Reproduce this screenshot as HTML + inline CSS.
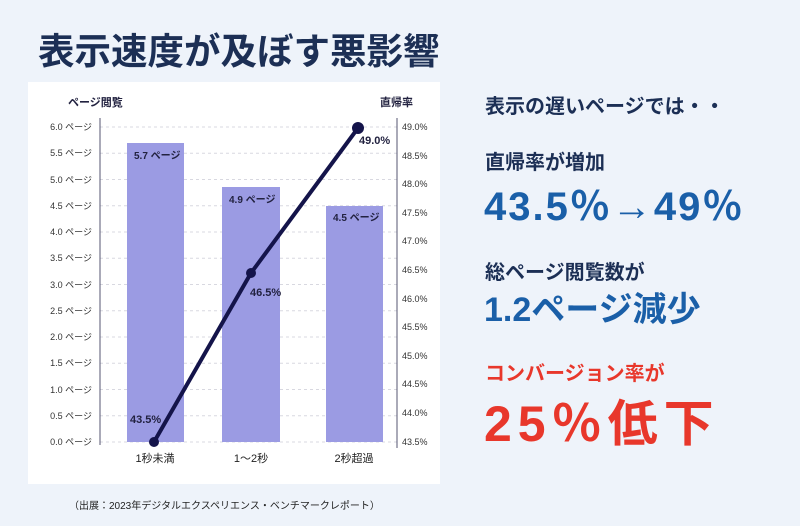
<!DOCTYPE html>
<html><head><meta charset="utf-8"><style>
body{margin:0;width:800px;height:526px;background:#eef3fa;position:relative;overflow:hidden;font-family:"Liberation Sans","Noto Sans CJK JP",sans-serif}
.t{position:absolute;white-space:nowrap;font-weight:bold}
</style></head><body>
<div class="t" style="left:38px;top:22px;font-size:36.5px;color:#1c2f55">表示速度が及ぼす悪影響</div>
<div style="position:absolute;left:28px;top:82px;width:412px;height:402px;background:#fff"></div>
<svg style="position:absolute;left:0;top:0" width="800" height="526" font-family="Liberation Sans,Noto Sans CJK JP,sans-serif">
<g stroke="#d8d8e0" stroke-dasharray="3,3" stroke-width="1">
<line x1="100" x2="397" y1="127" y2="127"/><line x1="100" x2="397" y1="153.25" y2="153.25"/><line x1="100" x2="397" y1="179.5" y2="179.5"/><line x1="100" x2="397" y1="205.75" y2="205.75"/><line x1="100" x2="397" y1="232" y2="232"/><line x1="100" x2="397" y1="258.25" y2="258.25"/><line x1="100" x2="397" y1="284.5" y2="284.5"/><line x1="100" x2="397" y1="310.75" y2="310.75"/><line x1="100" x2="397" y1="337" y2="337"/><line x1="100" x2="397" y1="363.25" y2="363.25"/><line x1="100" x2="397" y1="389.5" y2="389.5"/><line x1="100" x2="397" y1="415.75" y2="415.75"/><line x1="100" x2="397" y1="442" y2="442"/>
</g>
<line x1="100" x2="100" y1="118" y2="445" stroke="#555570"/>
<line x1="397" x2="397" y1="118" y2="448" stroke="#555570"/>
<g fill="#9b9be3">
<rect x="127" y="143" width="57" height="299"/><rect x="222" y="187" width="58" height="255"/><rect x="326" y="206" width="57" height="236"/>
</g>
<g font-size="9" fill="#333" text-anchor="end">
<text x="92" y="130">6.0 ページ</text><text x="92" y="156">5.5 ページ</text><text x="92" y="183">5.0 ページ</text><text x="92" y="209">4.5 ページ</text><text x="92" y="235">4.0 ページ</text><text x="92" y="261">3.5 ページ</text><text x="92" y="288">3.0 ページ</text><text x="92" y="314">2.5 ページ</text><text x="92" y="340">2.0 ページ</text><text x="92" y="366">1.5 ページ</text><text x="92" y="393">1.0 ページ</text><text x="92" y="419">0.5 ページ</text><text x="92" y="445">0.0 ページ</text>
</g>
<g font-size="9" fill="#333">
<text x="402" y="130">49.0%</text><text x="402" y="159">48.5%</text><text x="402" y="187">48.0%</text><text x="402" y="216">47.5%</text><text x="402" y="244">47.0%</text><text x="402" y="273">46.5%</text><text x="402" y="302">46.0%</text><text x="402" y="330">45.5%</text><text x="402" y="359">45.0%</text><text x="402" y="387">44.5%</text><text x="402" y="416">44.0%</text><text x="402" y="445">43.5%</text>
</g>
<text x="68" y="106" font-size="11" font-weight="bold" fill="#222240">ページ閲覧</text>
<text x="380" y="106" font-size="11" font-weight="bold" fill="#222240">直帰率</text>
<g font-size="10" font-weight="bold" fill="#222240">
<text x="134" y="159">5.7 ページ</text><text x="229" y="203">4.9 ページ</text><text x="333" y="221">4.5 ページ</text>
<text x="130" y="423" font-size="11">43.5%</text><text x="250" y="296" font-size="11">46.5%</text><text x="359" y="144" font-size="11">49.0%</text>
</g>
<polyline points="154,442 251,273 358,128" fill="none" stroke="#14144a" stroke-width="4"/>
<circle cx="154" cy="442" r="5" fill="#14144a"/><circle cx="251" cy="273" r="5" fill="#14144a"/><circle cx="358" cy="128" r="6" fill="#14144a"/>
<g font-size="11" fill="#222" text-anchor="middle">
<text x="155" y="462">1秒未満</text><text x="251" y="462">1〜2秒</text><text x="354" y="462">2秒超過</text>
</g>
<text x="69" y="509" font-size="10" fill="#222">（出展：2023年デジタルエクスペリエンス・ベンチマークレポート）</text>
</svg>
<div class="t" style="left:485px;top:90px;font-size:20px;color:#1c2f55">表示の遅いページでは・・</div>
<div class="t" style="left:485px;top:146px;font-size:20px;color:#1c2f55">直帰率が増加</div>
<div class="t" style="left:484px;top:174px;font-size:40px;letter-spacing:2px;color:#1a5fa8">43.5％→49％</div>
<div class="t" style="left:485px;top:256px;font-size:20px;color:#1c2f55">総ページ閲覧数が</div>
<div class="t" style="left:484px;top:282px;font-size:34px;color:#1a5fa8">1.2ページ減少</div>
<div class="t" style="left:485px;top:357px;font-size:20px;color:#e8372b">コンバージョン率が</div>
<div class="t" style="left:484px;top:384px;font-size:50px;letter-spacing:6px;color:#e8372b">25％低下</div>
</body></html>
